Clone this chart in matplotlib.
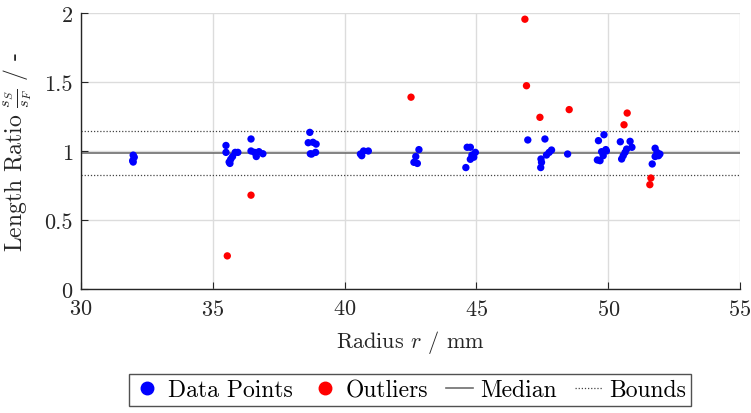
import matplotlib
matplotlib.use("Agg")
import matplotlib.pyplot as plt
from matplotlib.lines import Line2D

plt.rcParams['font.family'] = ['cmr10', 'DejaVu Serif']
plt.rcParams['mathtext.fontset'] = 'cm'
plt.rcParams['axes.formatter.use_mathtext'] = True

data_r = [31.98, 32.02, 31.96, 31.98,
          35.5, 35.5, 35.62, 35.68, 35.75, 35.85, 35.95, 35.65,
          36.45, 36.45, 36.58, 36.65, 36.75, 36.9,
          38.62, 38.68, 38.8, 38.92, 38.75, 38.9, 38.7,
          40.6, 40.72, 40.9, 40.65,
          42.82, 42.7, 42.63, 42.76,
          44.65, 44.77, 44.83, 44.96, 44.77, 44.9, 44.6,
          46.95,
          47.6, 47.45, 47.47, 47.44, 47.66, 47.76, 47.85, 48.46,
          49.63, 49.84, 49.75, 49.91, 49.59, 49.69, 49.81, 49.93,
          50.46, 50.83, 50.7, 50.9, 50.51, 50.57, 50.64,
          51.78, 51.85, 51.91, 51.78, 51.67, 51.96]
data_ratio = [0.97, 0.955, 0.93, 0.92,
              1.04, 0.99, 0.92, 0.94, 0.96, 0.99, 0.99, 0.91,
              1.087, 1.0, 0.99, 0.96, 0.995, 0.98,
              1.06, 1.135, 1.063, 1.05, 0.978, 0.99, 0.98,
              0.978, 1.0, 1.0, 0.966,
              1.01, 0.96, 0.918, 0.91,
              1.027, 1.027, 0.97, 0.99, 0.94, 0.955, 0.88,
              1.08,
              1.087, 0.942, 0.918, 0.88, 0.971, 0.99, 1.007, 0.978,
              1.075, 1.118, 0.995, 1.01, 0.935, 0.93, 0.966, 1.0,
              1.067, 1.07, 1.014, 1.027, 0.942, 0.966, 0.99,
              1.02, 0.99, 0.966, 0.96, 0.906, 0.978]

out_r = [35.55, 36.45, 42.52, 46.84, 46.9, 47.41, 48.52, 50.72, 50.6, 51.62, 51.58]
out_ratio = [0.24, 0.68, 1.39, 1.955, 1.473, 1.244, 1.30, 1.275, 1.19, 0.804, 0.756]

median_val = 0.985
upper_bound = 1.145
lower_bound = 0.826

fig = plt.figure(figsize=(7.51, 4.14), dpi=100)
ax = fig.add_axes([81/751, 1-290/414, (740-81)/751, (290-14)/414])

ax.grid(True, color='#dcdcdc', linewidth=1.0)
ax.set_axisbelow(True)

ax.axhline(median_val, color='#6e6e6e', linewidth=1.2, zorder=2)
ax.axhline(upper_bound, color='#444444', linewidth=0.9, linestyle=(0, (1, 1.5)), zorder=2)
ax.axhline(lower_bound, color='#444444', linewidth=0.9, linestyle=(0, (1, 1.5)), zorder=2)

ax.scatter(data_r, data_ratio, s=28, color='#0000ff', edgecolors='none', zorder=3)
ax.scatter(out_r, out_ratio, s=28, color='#ff0000', edgecolors='none', zorder=3)

ax.set_xlim(30, 55)
ax.set_ylim(0, 2)
ax.set_xticks([30, 35, 40, 45, 50, 55])
ax.set_yticks([0, 0.5, 1, 1.5, 2])
ax.set_yticklabels(['0', '0.5', '1', '1.5', '2'])
ax.tick_params(direction='in', labelsize=16, length=5, color='#262626', labelcolor='#262626', top=False, right=False)
ax.tick_params(axis='x', pad=7)
ax.tick_params(axis='y', pad=6)
for s in ['top', 'right']:
    ax.spines[s].set_visible(False)
for s in ['left', 'bottom']:
    ax.spines[s].set_color('#262626')
    ax.spines[s].set_linewidth(1.0)

ax.set_xlabel(r'Radius $r$ / mm', fontsize=16, color='#262626', labelpad=7)
ax.set_ylabel(r'Length Ratio $\frac{s_S}{s_F}$ / -', fontsize=17, color='#262626', labelpad=7)

handles = [
    Line2D([], [], marker='o', linestyle='none', color='#0000ff', markersize=9),
    Line2D([], [], marker='o', linestyle='none', color='#ff0000', markersize=9),
    Line2D([], [], color='#6e6e6e', linewidth=1.2),
    Line2D([], [], color='#444444', linewidth=0.9, linestyle=(0, (1, 1.5))),
]
labels = ['Data Points', 'Outliers', 'Median', 'Bounds']
leg = fig.legend(handles, labels, loc='center', bbox_to_anchor=(410/751, 1-391/414),
                 ncol=4, fontsize=17, frameon=True, fancybox=False,
                 handlelength=1.15, handletextpad=0.3, columnspacing=0.77,
                 borderpad=0.2, edgecolor='#262626')
leg.get_frame().set_linewidth(1.0)

fig.savefig('out.png', dpi=100)
